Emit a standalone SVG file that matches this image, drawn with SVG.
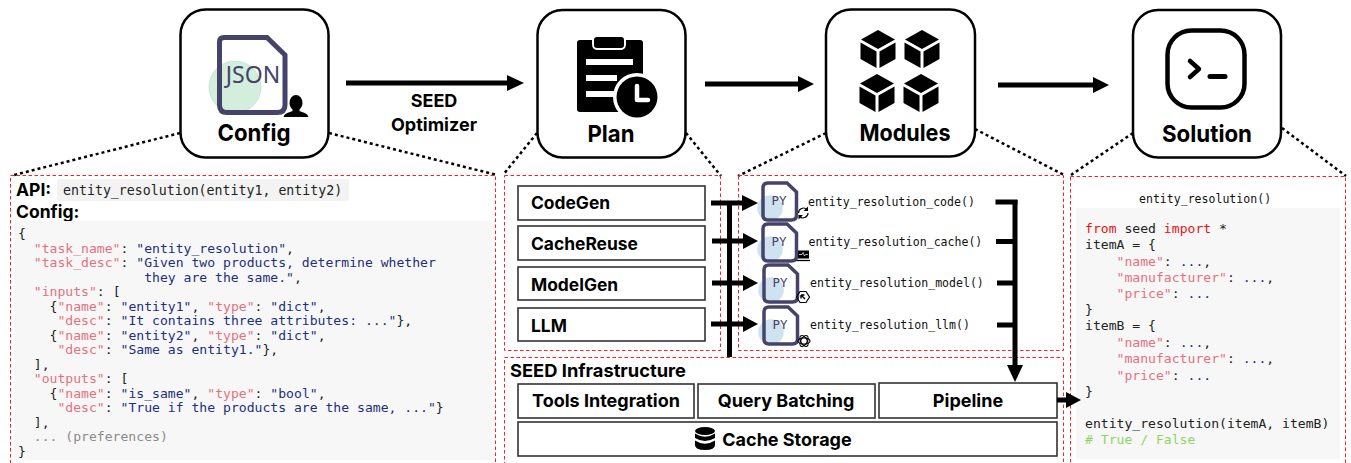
<svg xmlns="http://www.w3.org/2000/svg" width="1351" height="463" viewBox="0 0 1351 463">
<style>
text{font-family:"Inter","Liberation Sans",sans-serif;fill:#000}
.t{font-size:23.5px;font-weight:700;text-anchor:middle}
.s{font-size:18px;font-weight:700;text-anchor:middle}
.b{font-size:17.5px;font-weight:700}
.m{font-size:17.4px;font-weight:700}
.i{font-size:18px;font-weight:700;text-anchor:middle}
.c{font-family:"DejaVu Sans Mono","Liberation Mono",monospace;font-size:13.1px;white-space:pre;fill:#222}
.f{font-family:"DejaVu Sans Mono","Liberation Mono",monospace;font-size:11.55px;white-space:pre;fill:#111}
.k{fill:#e4717f}.v{fill:#1d2f7c}.g{fill:#8a8a8a}.r{fill:#f01010}.n{fill:#8fd565}
.card{fill:#fff;stroke:#000;stroke-width:2.5}
.panel{fill:none;stroke:#f5222d;stroke-width:1;stroke-dasharray:3.5 2.5}
.dot{stroke:#000;stroke-width:2.5;stroke-dasharray:3 3;fill:none}
.box{fill:#fff;stroke:#333;stroke-width:1.6}
.w{stroke:#000;stroke-width:5;fill:none}
.doc{fill:none;stroke:#45436a;stroke-width:3.5}
.py{font-family:"DejaVu Sans Mono",monospace;font-size:12.5px;fill:#45436a;text-anchor:middle}
.ico{fill:none;stroke:#000;stroke-width:1.2}
</style>
<defs>
<g id="cube"><path d="M0 -19L17 -9.5L0 0L-17 -9.5Z" fill="#000"/><path d="M-17.5 -6.5L-1.5 2.5V19L-17.5 10Z" fill="#000"/><path d="M17.5 -6.5L1.5 2.5V19L17.5 10Z" fill="#000"/></g>
<g id="py"><path d="M5 0H24L33.5 9V32Q33.5 37 28.5 37H5Q0 37 0 32V5Q0 0 5 0Z" fill="#fff" stroke="none"/><circle cx="7" cy="25" r="12.800" fill="#cfe2f0"/><path class="doc" d="M5 0H24L33.5 9V32Q33.5 37 28.5 37H5Q0 37 0 32V5Q0 0 5 0Z"/><text class="py" x="16" y="22">PY</text></g>
</defs>

<g id="connectors">
<g id="dotted">
<path class="dot" d="M180 133L14 175"/><path class="dot" d="M329 133L497 175"/>
<path class="dot" d="M537 133L503 175"/><path class="dot" d="M686 133L721 176"/>
<path class="dot" d="M826 133L738 176"/><path class="dot" d="M975 129L1064 175"/>
<path class="dot" d="M1133 133L1071 175"/><path class="dot" d="M1282 128L1346 176"/>
</g>
<path d="M346 80.500H507V75L524 83L507 91V85.500H346Z" fill="#000"/>
<path d="M705 81.500H798V76L814 84L798 92V86.500H705Z" fill="#000"/>
<path d="M998 82.500H1093V77L1109 85L1093 93V87.500H998Z" fill="#000"/>
</g>

<g id="panels">
<rect class="panel" x="10.500" y="175.500" width="485" height="295"/>
<rect class="panel" x="504.500" y="175.500" width="216" height="175"/>
<rect class="panel" x="738.500" y="175.500" width="325" height="175"/>
<rect class="panel" x="504.500" y="357.500" width="559" height="113"/>
<rect class="panel" x="1070.500" y="176.500" width="275" height="294"/>
</g>

<g id="node-config">
<rect class="card" x="180.500" y="9.500" width="148" height="148" rx="25"/>
<circle cx="235" cy="87" r="26" fill="#d4eedd" stroke="#b9d8c5" stroke-width=".6"/>
<path d="M224 37.500H267L285 55V105Q285 112.500 277 112.500H227Q219.500 112.500 219.500 105V42Q219.500 37.500 224 37.500Z" fill="none" stroke="#45436a" stroke-width="5"/>
<text x="253" y="83" style="font-family:'Noto Sans',sans-serif;font-size:23px;fill:#45436a;text-anchor:middle">JSON</text>
<path d="M296 95a6.500 8 0 0 1 6.500 8c0 3-1.500 5-3 6.500v1.500c3 1.500 8 2 9 6h-25c1-4 6-4.500 9-6v-1.500c-1.500-1.500-3-3.500-3-6.500a6.500 8 0 0 1 6.500-8Z" fill="#000"/>
<text class="t" x="254" y="141" textLength="73" lengthAdjust="spacingAndGlyphs">Config</text>
</g>

<g id="label-optimizer">
<text class="s" x="434" y="107">SEED</text>
<text class="s" x="434" y="131" textLength="86" lengthAdjust="spacingAndGlyphs">Optimizer</text>
</g>

<g id="node-plan">
<rect class="card" x="537.500" y="10" width="148" height="147.500" rx="25"/>
<path d="M580 40H592V44Q592 50 598 50H620Q626 50 626 44V40H640Q643 40 643 43V112H580Q577 112 577 109V43Q577 40 580 40Z" fill="#000"/>
<rect x="594" y="37" width="30" height="11" rx="3" fill="#000"/>
<rect x="586" y="59" width="47" height="6" fill="#fff"/><rect x="586" y="75" width="31" height="6" fill="#fff"/><rect x="586" y="91" width="31" height="6" fill="#fff"/>
<circle cx="637" cy="97" r="24" fill="#fff"/><circle cx="637" cy="97" r="20.500" fill="#000"/>
<path d="M637 86V100H648" fill="none" stroke="#fff" stroke-width="4.500" stroke-linecap="round" stroke-linejoin="round"/>
<text class="t" x="611" y="142" textLength="47" lengthAdjust="spacingAndGlyphs">Plan</text>
</g>

<g id="node-modules">
<rect class="card" x="826" y="9.500" width="149" height="147" rx="25"/>
<use href="#cube" x="878" y="49"/><use href="#cube" x="922" y="49"/><use href="#cube" x="877" y="93"/><use href="#cube" x="921" y="93"/>
<text class="t" x="905" y="141" textLength="91" lengthAdjust="spacingAndGlyphs">Modules</text>
</g>

<g id="node-solution">
<rect class="card" x="1133" y="10" width="148" height="147.500" rx="25"/>
<rect x="1167.500" y="30.500" width="77" height="77" rx="24" fill="none" stroke="#000" stroke-width="4.500"/>
<path d="M1190 61L1199 69L1190 77" fill="none" stroke="#000" stroke-width="4.500" stroke-linecap="round" stroke-linejoin="round"/>
<path d="M1210 76.500H1225" stroke="#000" stroke-width="5" stroke-linecap="round"/>
<text class="t" x="1207" y="142" textLength="90" lengthAdjust="spacingAndGlyphs">Solution</text>
</g>

<g id="panel-config-content">
<text class="b" x="16" y="196">API:</text>
<rect x="57" y="179" width="292" height="22" rx="3" fill="#f3f3f3"/>
<text class="c" x="63" y="195" style="font-size:13.25px">entity_resolution(entity1, entity2)</text>
<text class="b" x="16" y="218">Config:</text>
<rect x="14" y="221" width="478" height="239" fill="#f7f7f7"/>
<text class="c" x="18" y="238">{</text>
<text class="c" x="18" y="252.500">  <tspan class="k">"task_name"</tspan>: <tspan class="v">"entity_resolution"</tspan>,</text>
<text class="c" x="18" y="267">  <tspan class="k">"task_desc"</tspan>: <tspan class="v">"Given two products, determine whether</tspan></text>
<text class="c" x="18" y="281.500">                <tspan class="v">they are the same."</tspan>,</text>
<text class="c" x="18" y="296">  <tspan class="k">"inputs"</tspan>: [</text>
<text class="c" x="18" y="310.500">    {<tspan class="k">"name"</tspan>: <tspan class="v">"entity1"</tspan>, <tspan class="k">"type"</tspan>: <tspan class="v">"dict"</tspan>,</text>
<text class="c" x="18" y="325">     <tspan class="k">"desc"</tspan>: <tspan class="v">"It contains three attributes: ..."</tspan>},</text>
<text class="c" x="18" y="339.500">    {<tspan class="k">"name"</tspan>: <tspan class="v">"entity2"</tspan>, <tspan class="k">"type"</tspan>: <tspan class="v">"dict"</tspan>,</text>
<text class="c" x="18" y="354">     <tspan class="k">"desc"</tspan>: <tspan class="v">"Same as entity1."</tspan>},</text>
<text class="c" x="18" y="368.500">  ],</text>
<text class="c" x="18" y="383">  <tspan class="k">"outputs"</tspan>: [</text>
<text class="c" x="18" y="397.500">    {<tspan class="k">"name"</tspan>: <tspan class="v">"is_same"</tspan>, <tspan class="k">"type"</tspan>: <tspan class="v">"bool"</tspan>,</text>
<text class="c" x="18" y="412">     <tspan class="k">"desc"</tspan>: <tspan class="v">"True if the products are the same, ..."</tspan>}</text>
<text class="c" x="18" y="426.500">  ],</text>
<text class="c g" x="18" y="441">  ... (preferences)</text>
<text class="c" x="18" y="455.500">}</text>
</g>

<g id="node-codegen"><rect class="box" x="518" y="186" width="187" height="34"/><text class="m" x="531" y="209">CodeGen</text></g>
<g id="node-cachereuse"><rect class="box" x="518" y="226" width="187" height="34"/><text class="m" x="531" y="250">CacheReuse</text></g>
<g id="node-modelgen"><rect class="box" x="518" y="267" width="187" height="33"/><text class="m" x="531" y="291">ModelGen</text></g>
<g id="node-llm"><rect class="box" x="518" y="308" width="187" height="33"/><text class="m" x="531" y="332">LLM</text></g>

<g id="node-code">
<use href="#py" x="763" y="183"/>
<text class="f" x="808" y="206">entity_resolution_code()</text>
<path class="ico" d="M798.500 213a5 5 0 0 1 8.500-3.500M808 213a5 5 0 0 1-8.500 3.500" stroke-width="1.400"/>
<path d="M808 206.500v4.500h-4.500zM798.500 219.500v-4.500h4.500z" fill="#000"/>
</g>
<g id="node-cache">
<use href="#py" x="763" y="224"/>
<text class="f" x="808.500" y="246">entity_resolution_cache()</text>
<rect x="798" y="250.500" width="11" height="8" fill="#000"/><path d="M796.500 260.500H810" stroke="#000" stroke-width="1.300"/>
<path d="M799 254.500H802L803 252.500L804.500 256L805.500 254.500H808" stroke="#fff" stroke-width=".7" fill="none"/>
</g>
<g id="node-model">
<use href="#py" x="764" y="265"/>
<text class="f" x="810" y="287">entity_resolution_model()</text>
<path class="ico" d="M800 291.500H806L809.500 297L806 302.500H800L796.500 297Z" stroke-width="1.400"/>
<path d="M801 295L805 299M801 295H804.500M801 295V298.500" stroke="#000" stroke-width="1.400" fill="none"/>
</g>
<g id="node-llmfn">
<use href="#py" x="764" y="307"/>
<text class="f" x="810" y="329">entity_resolution_llm()</text>
<g class="ico" stroke-width="1"><ellipse cx="804" cy="341" rx="6" ry="3.200"/><ellipse cx="804" cy="341" rx="6" ry="3.200" transform="rotate(60 804 341)"/><ellipse cx="804" cy="341" rx="6" ry="3.200" transform="rotate(120 804 341)"/></g>
</g>

<g id="bus-connectors">
<path class="w" d="M729.500 201V357"/>
<path class="w" d="M711 203H743M712 241H743M712 283H743M711 324H743"/>
<path d="M742 195L758 203L742 211ZM743 233L758 241L743 249ZM743 275L758 283L743 291ZM743 316L758 324L743 332Z" fill="#000"/>
<path class="w" d="M995.500 202H1017.500M996 241.500H1015M997 283H1015M997 325H1015"/>
<path class="w" d="M1015 200V367"/>
<path d="M1007 365H1023L1015 382Z" fill="#000"/>
</g>

<g id="panel-infra">
<text class="b" x="510" y="377" style="font-size:18px" textLength="176" lengthAdjust="spacingAndGlyphs">SEED Infrastructure</text>
<g id="node-tools"><rect class="box" x="518" y="384" width="176" height="34"/><text class="i" x="606" y="407">Tools Integration</text></g>
<g id="node-query"><rect class="box" x="698" y="384" width="177" height="34"/><text class="i" x="786" y="407">Query Batching</text></g>
<g id="node-pipeline"><rect class="box" x="879" y="383" width="178" height="35"/><text class="i" x="968" y="407">Pipeline</text></g>
<g id="node-cache-storage"><rect class="box" x="518" y="422" width="539" height="34"/>
<ellipse cx="705" cy="431" rx="10" ry="4" fill="#000"/>
<path d="M695 433.500Q705 440 715 433.500V438Q705 444 695 438ZM695 440.500Q705 447 715 440.500V445Q715 450 705 450Q695 450 695 445Z" fill="#000"/>
<text class="i" x="787" y="446">Cache Storage</text></g>
</g>

<g id="panel-solution-content">
<text class="f" x="1139" y="203">entity_resolution()</text>
<rect x="1076" y="208" width="264" height="251" fill="#f7f7f7"/>
<text class="c" x="1085" y="233"><tspan class="r">from</tspan> seed <tspan class="r">import</tspan> *</text>
<text class="c" x="1085" y="249">itemA = {</text>
<text class="c" x="1085" y="265.500">    <tspan class="k">"name"</tspan>: <tspan class="v">...</tspan>,</text>
<text class="c" x="1085" y="281.500">    <tspan class="k">"manufacturer"</tspan>: <tspan class="v">...</tspan>,</text>
<text class="c" x="1085" y="297.500">    <tspan class="k">"price"</tspan>: <tspan class="v">...</tspan></text>
<text class="c" x="1085" y="314">}</text>
<text class="c" x="1085" y="330">itemB = {</text>
<text class="c" x="1085" y="347">    <tspan class="k">"name"</tspan>: <tspan class="v">...</tspan>,</text>
<text class="c" x="1085" y="363">    <tspan class="k">"manufacturer"</tspan>: <tspan class="v">...</tspan>,</text>
<text class="c" x="1085" y="380">    <tspan class="k">"price"</tspan>: <tspan class="v">...</tspan></text>
<text class="c" x="1085" y="396">}</text>
<text class="c" x="1085" y="428">entity_resolution(itemA, itemB)</text>
<text class="c n" x="1085" y="444"># True / False</text>
</g>

<g id="output-connector">
<path class="w" d="M1057 400H1067"/>
<path d="M1066 392L1081 400L1066 408Z" fill="#000"/>
</g>
</svg>
